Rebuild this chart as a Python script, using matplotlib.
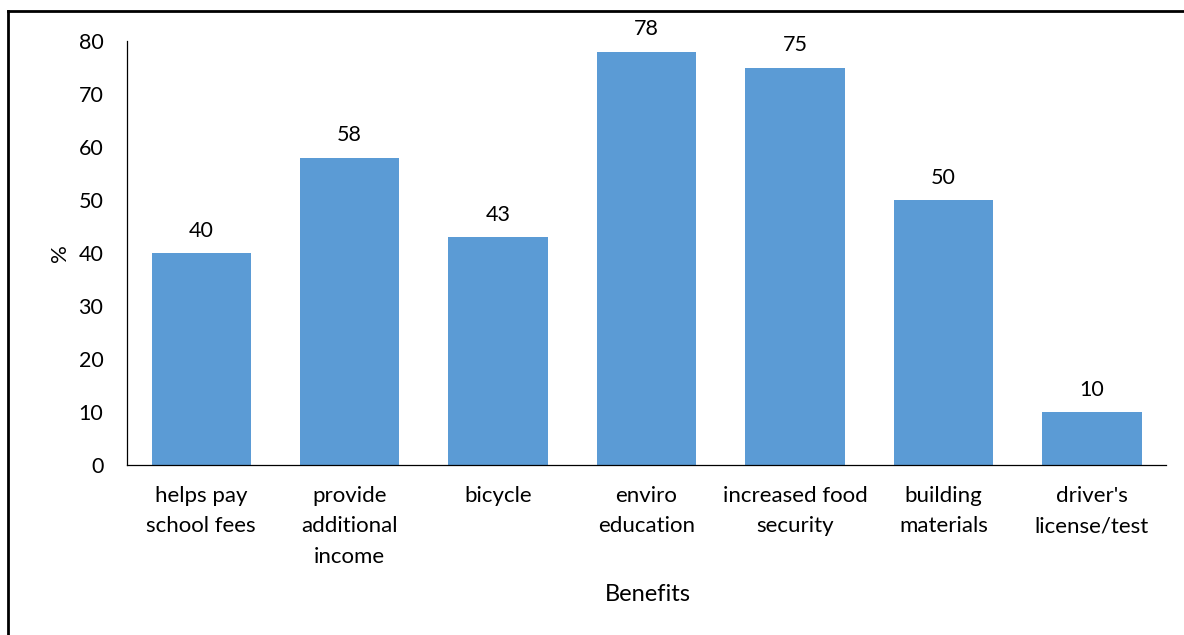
import matplotlib.pyplot as plt
import matplotlib.lines as mlines

plt.rcParams['font.family'] = ['Lato', 'DejaVu Sans']

categories = ["helps pay\nschool fees", "provide\nadditional\nincome", "bicycle",
              "enviro\neducation", "increased food\nsecurity", "building\nmaterials",
              "driver's\nlicense/test"]
values = [40, 58, 43, 78, 75, 50, 10]

fig = plt.figure(figsize=(11.84, 6.35), dpi=100)
ax = fig.add_axes([0.1073, 0.2677, 0.8775, 0.6677])

x = range(len(categories))
bars = ax.bar(x, values, width=0.67, color='#5B9BD5')
for b, v in zip(bars, values):
    ax.annotate(str(v), (b.get_x() + b.get_width() / 2, v), xytext=(0, 9),
                textcoords='offset points', ha='center', va='bottom', fontsize=15.5)

ax.set_xlim(-0.5, len(categories) - 0.5)
ax.set_ylim(0, 80)
ax.set_yticks(range(0, 81, 10))
ax.set_xticks(list(x))
ax.set_xticklabels(categories, fontsize=16, linespacing=1.65, va='top')
ax.tick_params(axis='both', length=0)
ax.tick_params(axis='y', labelsize=15.5, pad=17)
ax.tick_params(axis='x', pad=15)
for s in ['top', 'right']:
    ax.spines[s].set_visible(False)
ax.spines['left'].set_linewidth(0.9)
ax.spines['bottom'].set_linewidth(0.9)

ax.set_ylabel('%', fontsize=16, labelpad=6)
fig.text(0.547, 0.063, 'Benefits', ha='center', va='center', fontsize=17)

# outer frame (only the left and top edges are visible)
fig.add_artist(mlines.Line2D([0.0068, 0.0068], [0, 0.982], color='black', lw=2, transform=fig.transFigure))
fig.add_artist(mlines.Line2D([0.0068, 1], [0.982, 0.982], color='black', lw=2, transform=fig.transFigure))

fig.savefig('out.png', dpi=100)
